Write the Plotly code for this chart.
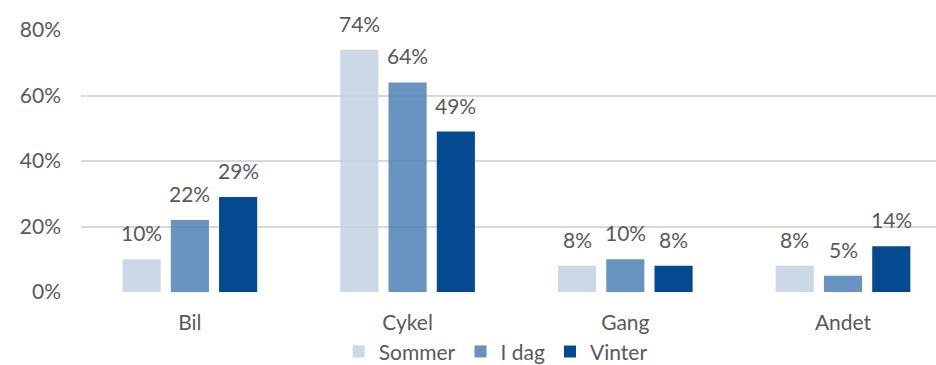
import plotly.graph_objects as go

categories = ["Bil", "Cykel", "Gang", "Andet"]
series_names = ["Sommer", "I dag", "Vinter"]
sommer = [10, 74, 8, 8]
i_dag = [22, 64, 10, 5]
vinter = [29, 49, 8, 14]
y_ticks = [0, 20, 40, 60, 80]
y_tick_labels = [f"{v}%" for v in y_ticks]

colors = ["#C2D2E3", "#4C81B5", "#034A91"]
opacities = [0.85, 0.85, 1.0]
font_family = "Lato, 'Open Sans', sans-serif"
text_color = "#595959"
bargap = 0.335
bargroupgap = 0.21

fig = go.Figure()
all_series = [sommer, i_dag, vinter]
for name, vals, col, op in zip(series_names, all_series, colors, opacities):
    fig.add_trace(go.Bar(
        name=name, x=categories, y=vals,
        marker=dict(color=col, line=dict(width=0)),
        opacity=op,
    ))

# value labels above each bar, centred on the bar's slot within its group
slot = (1 - bargap) / len(all_series)
annotations = []
for k, vals in enumerate(all_series):
    offset = (k - (len(all_series) - 1) / 2) * slot
    for i, v in enumerate(vals):
        annotations.append(dict(
            x=i + offset, y=v, xref="x", yref="y",
            text=f"{v}%", showarrow=False,
            yanchor="bottom", xanchor="center", yshift=12,
            font=dict(family=font_family, size=21, color=text_color),
        ))

fig.update_layout(
    width=936, height=365,
    margin=dict(l=81, r=0, t=30, b=73, autoexpand=False),
    paper_bgcolor="white", plot_bgcolor="white",
    barmode="group", bargap=bargap, bargroupgap=bargroupgap,
    font=dict(family=font_family, size=21, color=text_color),
    showlegend=True,
    legend=dict(
        orientation="h", x=0.485, xanchor="center",
        y=-0.15, yanchor="top",
        bgcolor="rgba(0,0,0,0)",
        font=dict(family=font_family, size=21, color=text_color),
        itemwidth=30, traceorder="normal",
    ),
    annotations=annotations,
)
fig.update_xaxes(
    type="category", range=[-0.5, 3.427],
    showgrid=False, showline=False, zeroline=False,
    ticks="", ticklabelstandoff=16,
    tickfont=dict(family=font_family, size=21, color=text_color),
)
fig.update_yaxes(
    range=[0, 80], tickvals=y_ticks, ticktext=y_tick_labels,
    showgrid=True, gridcolor="#D9D9D9", gridwidth=1.5,
    zeroline=False, showline=False, ticks="", ticklabelstandoff=19,
    tickfont=dict(family=font_family, size=21, color=text_color),
)

fig.write_html("out.html")
